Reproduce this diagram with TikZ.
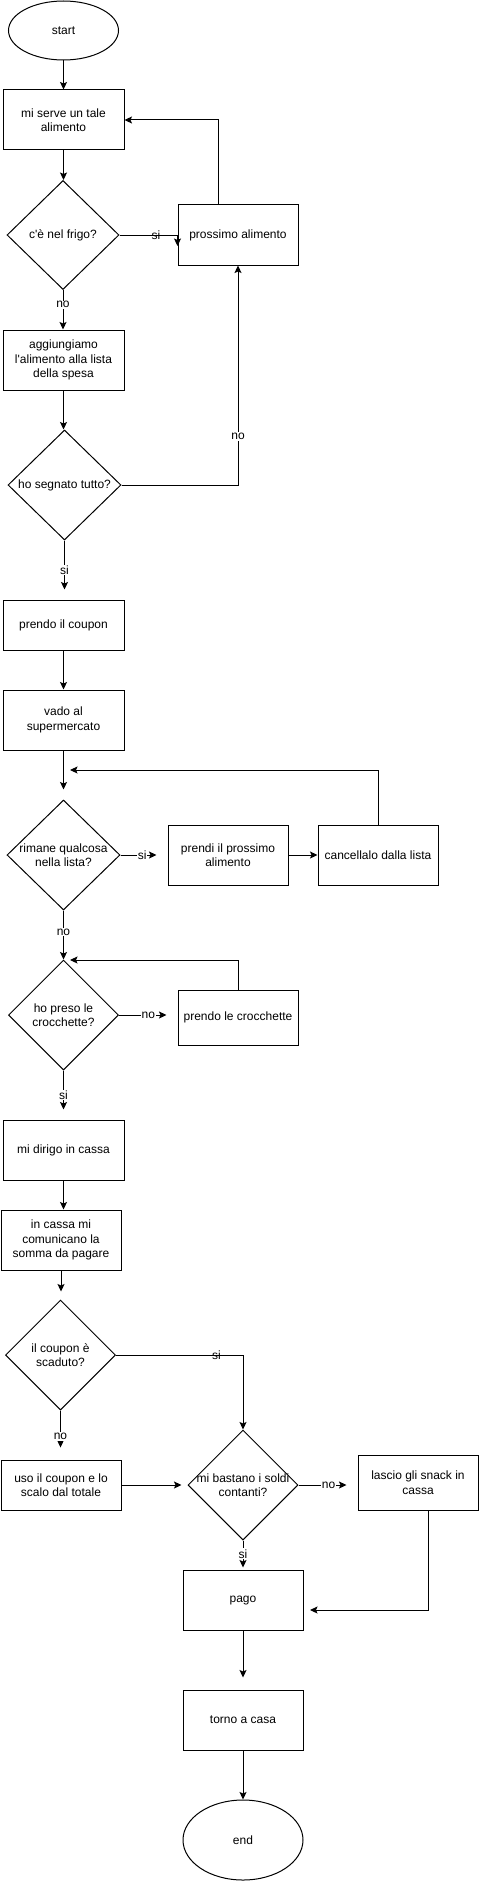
\documentclass[tikz,border=0pt]{standalone}
\usepackage{fontspec}
\setmainfont{Liberation Sans}
\usetikzlibrary{shapes.geometric,arrows.meta}
\begin{document}
\begin{tikzpicture}[x=1pt,y=-1pt,
  font=\fontsize{12}{14.4}\selectfont,
  box/.style={draw, line width=1pt, rectangle, minimum width=121pt, minimum height=60pt, align=center, inner sep=2pt},
  dia/.style={draw, line width=1pt, diamond, minimum width=110pt, minimum height=110pt, inner sep=0pt},
  oval/.style={draw, line width=1pt, ellipse, inner sep=0pt},
  txt/.style={align=center, inner sep=0pt},
  ar/.style={draw, line width=1pt, -{Stealth[length=7.5pt,width=7pt,inset=1.5pt]}},
  lbl/.style={fill=white, inner sep=1pt},
  lblx/.style={inner sep=1pt}]
\useasboundingbox (0,0) rectangle (479,1881);

% nodes
\node[oval, minimum width=110pt, minimum height=59pt] (start) at (63.5,30.5) {start};
\node[box] (b1) at (63.5,120) {mi serve un tale\\alimento};
\node[dia, minimum width=112pt, minimum height=109pt] (d1) at (63,235) {};
\node[txt] (d1t) at (d1) {c\textquotesingle è nel frigo?};
\node[box, minimum width=120pt] (pa) at (238,235) {prossimo alimento};
\node[box] (b2) at (63.5,360) {aggiungiamo\\l\textquotesingle alimento alla lista\\della spesa};
\node[dia, minimum width=113pt] (d2) at (64.5,485) {};
\node[txt] (d2t) at (d2) {ho segnato tutto?};
\node[box, minimum height=50pt] (b3) at (63.5,625) {prendo il coupon};
\node[box] (b4) at (63.5,720) {vado al\\supermercato};
\node[dia, minimum width=113pt] (d3) at (63.5,855) {};
\node[txt] (d3t) at (d3) {rimane qualcosa\\nella lista?};
\node[box, minimum width=120pt] (b5) at (228,855) {prendi il prossimo\\alimento};
\node[box, minimum width=120pt] (b6) at (378,855) {cancellalo dalla lista};
\node[dia] (d4) at (63.5,1015) {};
\node[txt] (d4t) at (d4) {ho preso le\\crocchette?};
\node[box, minimum width=120pt, minimum height=55pt] (b7) at (238,1017.5) {prendo le crocchette};
\node[box] (b8) at (63.5,1150) {mi dirigo in cassa};
\node[box, minimum width=120pt] (b9) at (61,1240) {in cassa mi\\comunicano la\\somma da pagare};
\node[dia] (d5) at (60.5,1355) {};
\node[txt] (d5t) at (d5) {il coupon è\\scaduto?};
\node[box, minimum width=120pt, minimum height=50pt] (b10) at (61,1485) {uso il coupon e lo\\scalo dal totale};
\node[dia] (d6) at (243,1485) {};
\node[txt] (d6t) at (d6) {mi bastano i soldi\\contanti?};
\node[box, minimum width=120pt, minimum height=55pt] (b11) at (418,1482.5) {lascio gli snack in\\cassa};
\node[box, minimum width=120pt] (b12) at (243,1600) {pago};
\node[box, minimum width=120pt] (b13) at (243,1720) {torno a casa};
\node[oval, minimum width=120pt, minimum height=80pt] (end) at (243,1840) {end};

% free ends
\coordinate (k1) at ([yshift=-11pt]pa.west);
\coordinate (c1) at (70,770);
\coordinate (c2) at (70,960);
\coordinate (c3) at (310,1610);

% connectors
\draw[ar] (start.south) -- (start.south |- b1.north);
\draw[ar] (b1.south) -- (b1.south |- d1.north);
\draw[ar] (d1.east) -- node[lblx,pos=0.63]{si} (d1.east -| pa.west) -- (k1);
\draw[ar] ([xshift=-20pt]pa.north) |- (b1.east);
\draw[ar] (d1.south) -- node[lbl,pos=0.375]{no} (d1.south |- b2.north);
\draw[ar] (b2.south) -- (b2.south |- d2.north);
\draw[ar] (d2.east) -| node[lbl,pos=0.61]{no} (pa.south);
\draw[ar, shorten >=10pt] (d2.south) -- node[lbl,pos=0.5]{si} (d2.south |- b3.north);
\draw[ar] (b3) -- (b4);
\draw[ar, shorten >=10pt] (b4.south) -- (d3.north);
\draw[ar] (b6.north) |- (c1);
\draw[ar, shorten >=11pt] (d3.east) -- node[lbl,pos=0.46]{si} (d3.east -| b5.west);
\draw[ar] (b5) -- (b6);
\draw[ar] (d3.south) -- node[lbl,pos=0.44]{no} (d4.north);
\draw[ar] (b7.north) |- (c2);
\draw[ar, shorten >=11pt] (d4.east) -- node[lbl,pos=0.5]{no} (d4.east -| b7.west);
\draw[ar, shorten >=10pt] (d4.south) -- node[lbl,pos=0.5]{si} (d4.south |- b8.north);
\draw[ar] (b8.south) -- (b8.south |- b9.north);
\draw[ar, shorten >=8pt] (b9.south) -- (b9.south |- d5.north);
\draw[ar] (d5.east) -| node[lblx,pos=0.395]{si} (d6.north);
\draw[ar, shorten >=12pt] (d5.south) -- node[lbl,pos=0.53]{no} (d5.south |- b10.north);
\draw[ar, shorten >=6pt] (b10.east) -- (b10.east -| d6.west);
\draw[ar, shorten >=11pt] (d6.east) -- node[lbl,pos=0.51]{no} (d6.east -| b11.west);
\draw[ar, shorten >=2pt] (d6.south) -- node[lbl,pos=0.46]{si} (b12.north);
\draw[ar] ([xshift=10pt]b11.south) |- (c3);
\draw[ar, shorten >=12pt] (b12.south) -- (b13.north);
\draw[ar] (b13) -- (end);
\end{tikzpicture}
\end{document}
